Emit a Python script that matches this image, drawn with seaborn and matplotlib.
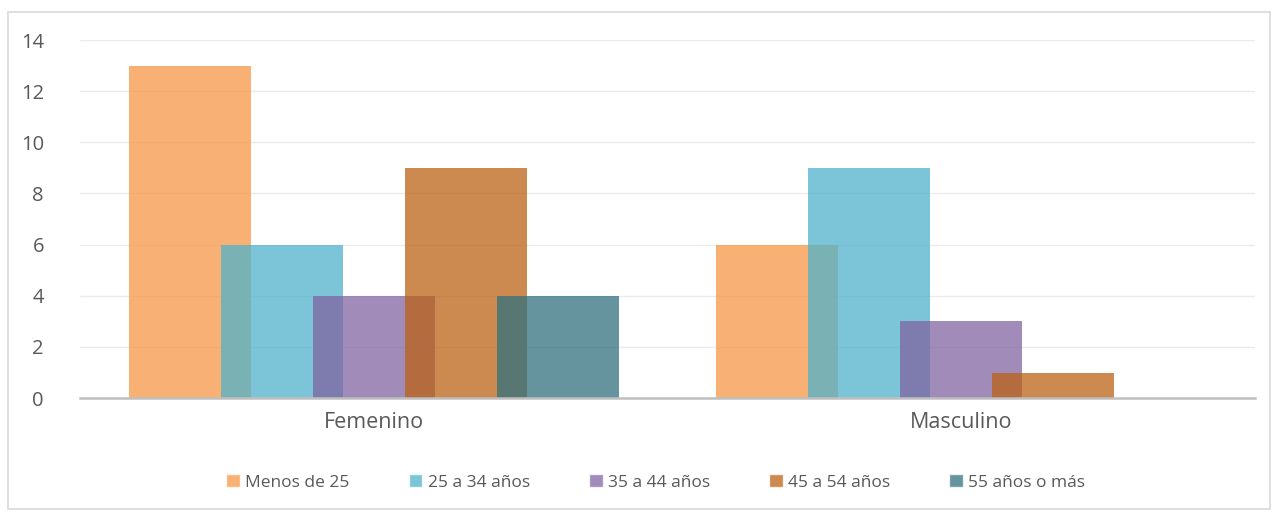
import numpy as np
import pandas as pd
import seaborn as sns
import matplotlib.pyplot as plt
from matplotlib.patches import Rectangle

# Data
generos = ["Femenino", "Masculino"]
edades = ["Menos de 25", "25 a 34 años", "35 a 44 años", "45 a 54 años", "55 años o más"]
menos_25 = [13, 6]
de_25_34 = [6, 9]
de_35_44 = [4, 3]
de_45_54 = [9, 1]
de_55_mas = [4, 0]

colores = ["#F79646", "#50B2CC", "#8064A2", "#BB6216", "#32717F"]

df = pd.DataFrame({
    "genero": generos * 5,
    "edad": np.repeat(edades, 2),
    "valor": menos_25 + de_25_34 + de_35_44 + de_45_54 + de_55_mas,
})

sns.set_style("white")
plt.rcParams['font.family'] = ['Open Sans', 'DejaVu Sans']

fig = plt.figure(figsize=(12.78, 5.13), dpi=100)
ax = fig.add_axes([0.0626, 0.224, 0.9194, 0.698])

# step between bars 0.1565, bars widened so they overlap like Excel
sns.barplot(data=df, x="genero", y="valor", hue="edad", hue_order=edades,
            order=generos, palette=colores, width=0.7825, alpha=0.75,
            saturation=1, ax=ax, legend=True)

bar_w = 0.2075
for p in ax.patches:
    if p.get_height() == 0 and p.get_width() == 0:
        continue
    cx = p.get_x() + p.get_width() / 2
    p.set_width(bar_w)
    p.set_x(cx - bar_w / 2)
    p.set_linewidth(0)

ax.set_xlim(-0.5, 1.5)
ax.set_ylim(0, 14)
ax.set_yticks(range(0, 15, 2))
ax.yaxis.grid(True, color="#EBEBEB", linewidth=1)
ax.set_axisbelow(True)
for s in ["top", "right", "left"]:
    ax.spines[s].set_visible(False)
ax.spines["bottom"].set_color("#BFBFBF")
ax.spines["bottom"].set_linewidth(1.8)
ax.tick_params(axis="both", length=0, colors="#595959")
ax.tick_params(axis="x", pad=10, labelsize=15.5)
ax.tick_params(axis="y", pad=26, labelsize=14.5)
for t in ax.get_xticklabels():
    t.set_fontstretch("expanded")
ax.set_xlabel("")
ax.set_ylabel("")

leg = ax.legend(loc="center", bbox_to_anchor=(0.49, -0.235), ncol=5, frameon=False,
                fontsize=12.5, handlelength=0.8, handleheight=0.8, handletextpad=0.3,
                columnspacing=3.4, labelcolor="#595959")

# chart area border
fig.patches.append(Rectangle((0.006, 0.008), 0.988, 0.968, transform=fig.transFigure,
                             fill=False, edgecolor="#D9D9D9", linewidth=1.2))

fig.savefig("out.png", dpi=100)
